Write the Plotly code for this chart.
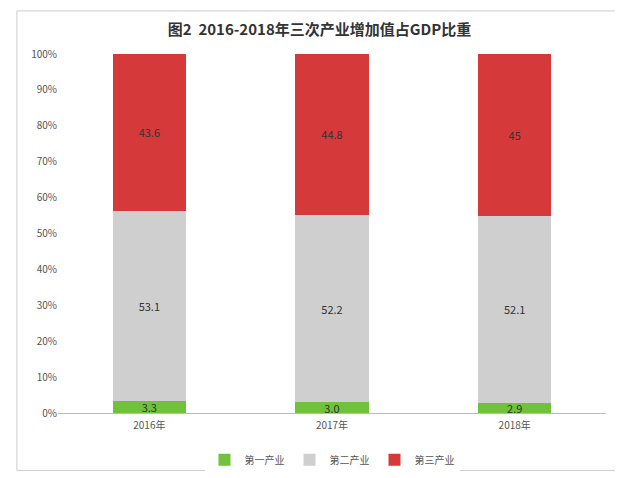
import plotly.graph_objects as go

years = ["2016年", "2017年", "2018年"]
primary = [3.3, 3.0, 2.9]
secondary = [53.1, 52.2, 52.1]
tertiary = [43.6, 44.8, 45.0]
primary_text = ["3.3", "3.0", "2.9"]
secondary_text = ["53.1", "52.2", "52.1"]
tertiary_text = ["43.6", "44.8", "45"]

fig = go.Figure()
fig.add_bar(x=years, y=primary, name="第一产业", marker_color="#6fc23a",
            text=primary_text, textposition="inside", insidetextanchor="middle")
fig.add_bar(x=years, y=secondary, name="第二产业", marker_color="#cfcfcf",
            text=secondary_text, textposition="inside", insidetextanchor="middle")
fig.add_bar(x=years, y=tertiary, name="第三产业", marker_color="#d6393a",
            text=tertiary_text, textposition="inside", insidetextanchor="middle")
fig.update_traces(textfont=dict(size=11, color="#333"), marker_line_width=0,
                  textangle=0, constraintext="none")
fig.update_layout(
    barmode="stack", bargap=0.6,
    width=623, height=478,
    paper_bgcolor="white", plot_bgcolor="white",
    margin=dict(l=50, r=25, t=48, b=60),
    title=dict(text="<b>图2  2016-2018年三次产业增加值占GDP比重</b>", x=0.5, y=0.965,
               font=dict(size=15, color="#333", family="Noto Sans CJK SC")),
    font=dict(family="Noto Sans CJK SC", size=11, color="#555"),
    yaxis=dict(range=[0, 100], dtick=10, ticksuffix="%", showgrid=False,
               zeroline=False, tickfont=dict(size=10)),
    xaxis=dict(showline=True, linecolor="#bbb", tickfont=dict(size=10),
               ticks="outside", ticklen=3, tickcolor="rgba(0,0,0,0)"),
    legend=dict(orientation="h", x=0.5, xanchor="center", y=-0.09, yanchor="top",
                font=dict(size=10), traceorder="normal"),
    shapes=[dict(type="rect", xref="paper", yref="paper", x0=-0.075, x1=1.035,
                 y0=-0.16, y1=1.12, line=dict(color="#ccc", width=1))],
)
fig.update_layout(margin=dict(t=46, b=60))
fig.write_html("out.html")
